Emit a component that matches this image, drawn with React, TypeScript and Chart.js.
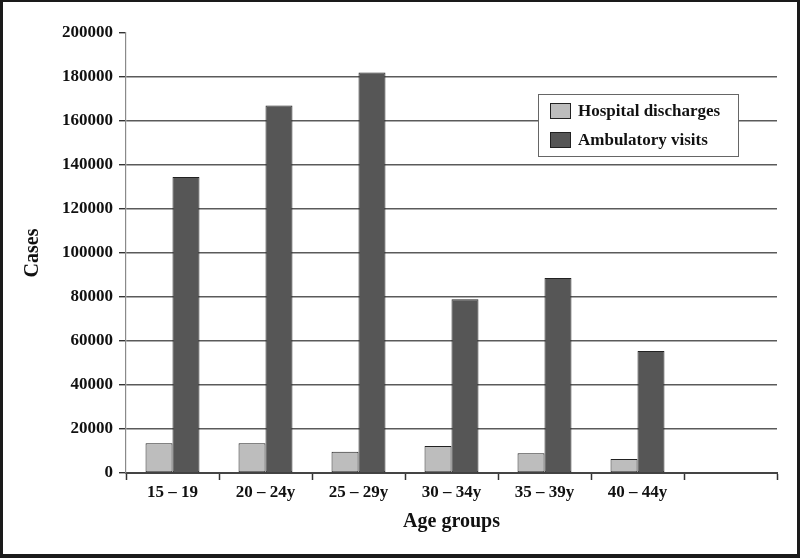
import React, { useEffect, useRef } from "react";
import { Chart, registerables } from "chart.js";

Chart.register(...registerables);

const categories = ["15 – 19", "20 – 24y", "25 – 29y", "30 – 34y", "35 – 39y", "40 – 44y", ""];
const hospitalDischarges = [13500, 13500, 9700, 12300, 9000, 6400, null];
const ambulatoryVisits = [134500, 167000, 182000, 79000, 88600, 55500, null];
const seriesNames = ["Hospital discharges", "Ambulatory visits"];
const seriesColors = ["#bdbdbd", "#565656"];
const yMax = 200000;
const yStep = 20000;

const FONT = "'Liberation Serif', 'Times New Roman', serif";

const legendPlugin = {
  id: "boxLegend",
  afterDraw(chart: any) {
    const ctx = chart.ctx;
    ctx.save();
    const x = 538, y = 94, w = 200, h = 62;
    ctx.fillStyle = "#ffffff";
    ctx.fillRect(x, y, w, h);
    ctx.strokeStyle = "#666";
    ctx.lineWidth = 1;
    ctx.strokeRect(x + 0.5, y + 0.5, w, h);
    ctx.font = `bold 17px ${FONT}`;
    ctx.textBaseline = "middle";
    ctx.textAlign = "left";
    seriesNames.forEach((name, i) => {
      const cy = 110.5 + i * 29;
      ctx.fillStyle = seriesColors[i];
      ctx.fillRect(550, cy - 7.5, 20, 15);
      ctx.strokeStyle = "#222";
      ctx.strokeRect(550.5, cy - 7, 20, 15);
      ctx.fillStyle = "#111";
      ctx.fillText(name, 578, cy + 1);
    });
    ctx.restore();
  },
};

export default function App() {
  const ref = useRef<HTMLCanvasElement>(null);
  useEffect(() => {
    if (!ref.current) return;
    const chart = new Chart(ref.current, {
      type: "bar",
      data: {
        labels: categories,
        datasets: [
          {
            label: seriesNames[0],
            data: hospitalDischarges,
            backgroundColor: seriesColors[0],
            borderColor: "#222",
            borderWidth: 1,
            borderSkipped: false,
            categoryPercentage: 0.58,
            barPercentage: 1,
          },
          {
            label: seriesNames[1],
            data: ambulatoryVisits,
            backgroundColor: seriesColors[1],
            borderColor: "#222",
            borderWidth: 1,
            borderSkipped: false,
            categoryPercentage: 0.58,
            barPercentage: 1,
          },
        ],
      },
      plugins: [legendPlugin],
      options: {
        responsive: false,
        animation: false,
        devicePixelRatio: 1,
        layout: { padding: { left: 0, top: 33, right: 23, bottom: 0 } },
        plugins: {
          legend: { display: false },
          tooltip: { enabled: false },
        },
        scales: {
          x: {
            offset: true,
            grid: {
              offset: true,
              drawOnChartArea: false,
              drawTicks: true,
              tickLength: 7,
              tickColor: "#333",
              tickWidth: 1.5,
            },
            border: { color: "#444", width: 2 },
            ticks: {
              color: "#111",
              font: { family: FONT, size: 17, weight: "bold" },
              padding: 2,
              maxRotation: 0,
            },
            title: {
              display: true,
              text: "Age groups",
              color: "#111",
              font: { family: FONT, size: 20, weight: "bold" },
              padding: { top: 0, bottom: 24 },
            },
            afterFit(scale: any) {
              scale.height = 85;
            },
          },
          y: {
            min: 0,
            max: yMax,
            ticks: {
              stepSize: yStep,
              color: "#111",
              font: { family: FONT, size: 17, weight: "bold" },
              padding: 6,
              callback: (v: any) => String(v),
            },
            grid: {
              color: (c: any) => (c.tick && c.tick.value === yMax ? "rgba(0,0,0,0)" : "#5a5a5a"),
              lineWidth: 1.4,
              tickLength: 7,
              tickColor: "#333",
              tickWidth: 1.4,
            },
            border: { color: "#8a8a8a", width: 1.2 },
            title: {
              display: true,
              text: "Cases",
              color: "#111",
              font: { family: FONT, size: 20, weight: "bold" },
              padding: { top: 21, bottom: 0 },
            },
            afterFit(scale: any) {
              scale.width = 126;
            },
          },
        },
      },
    } as any);
    return () => chart.destroy();
  }, []);
  return (
    <div style={{ position: "fixed", left: 0, top: 0, width: 800, height: 558, background: "#fff" }}>
      <canvas ref={ref} width={800} height={558} style={{ position: "absolute", left: 0, top: 0 }} />
      <div
        style={{
          position: "absolute",
          left: 0,
          top: 0,
          width: 800,
          height: 558,
          boxSizing: "border-box",
          borderStyle: "solid",
          borderColor: "#1a1a1a",
          borderWidth: "2px 3px 4px 3px",
          pointerEvents: "none",
        }}
      />
    </div>
  );
}
